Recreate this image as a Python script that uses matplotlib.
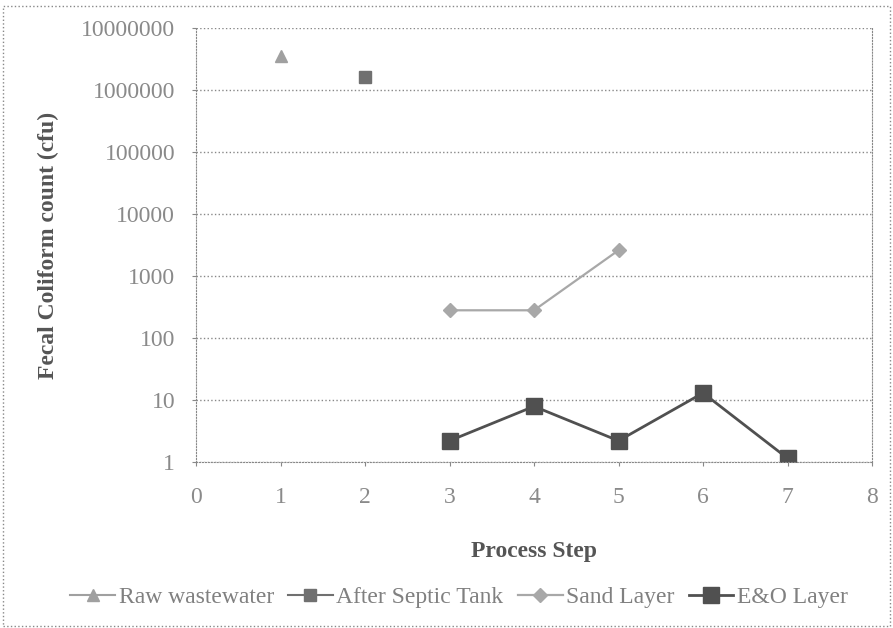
import matplotlib
matplotlib.use('Agg')
import matplotlib.pyplot as plt
from matplotlib.ticker import FixedLocator, FixedFormatter
from matplotlib.patches import Rectangle

plt.rcParams['font.family'] = ['Liberation Serif', 'DejaVu Serif']

# data
raw_x = [1]
raw_y = [3.6e6]
septic_x = [2]
septic_y = [1.6e6]
sand_x = [3, 4, 5]
sand_y = [280, 280, 2600]
eo_x = [3, 4, 5, 6, 7]
eo_y = [2.2, 7.9, 2.2, 13, 1.15]

y_ticks = [1, 10, 100, 1000, 10000, 100000, 1000000, 10000000]
y_labels = [str(v) for v in y_ticks]
x_ticks = list(range(0, 9))

fig = plt.figure(figsize=(8.93, 6.28), dpi=100)
ax = fig.add_axes([0.2195, 0.2643, 0.757, 0.6911])

ax.plot(raw_x, raw_y, marker='^', color='#a0a0a0', markersize=8, linestyle='-',
        label='Raw wastewater')
ax.plot(septic_x, septic_y, marker='s', color='#707070', markersize=8, linestyle='-',
        label='After Septic Tank')
ax.plot(sand_x, sand_y, marker='D', color='#a8a8a8', markersize=7, linewidth=1.6,
        label='Sand Layer')
ax.plot(eo_x, eo_y, marker='s', color='#505050', markersize=11, linewidth=2,
        label='E&O Layer')

ax.set_yscale('log')
ax.set_ylim(1, 1e7)
ax.set_xlim(0, 8)
ax.yaxis.set_major_locator(FixedLocator(y_ticks))
ax.yaxis.set_major_formatter(FixedFormatter(y_labels))
ax.yaxis.set_minor_locator(FixedLocator([]))
ax.set_xticks(x_ticks)
ax.grid(axis='y', linestyle=':', color='#888888', linewidth=1)
ax.spines['top'].set_visible(False)
for side in ['left', 'bottom', 'right']:
    ax.spines[side].set_linestyle(':')
    ax.spines[side].set_color('#888888')
ax.tick_params(colors='#888888', labelcolor='#8a8a8a', labelsize=17, length=3)
ax.tick_params(axis='y', pad=12)
ax.tick_params(axis='x', pad=15)

ax.set_ylabel('Fecal Coliform count (cfu)', fontsize=17, fontweight='bold',
              color='#555555', labelpad=16)
ax.set_xlabel('Process Step', fontsize=17, fontweight='bold', color='#555555',
              labelpad=24)

fig.legend(loc='center', bbox_to_anchor=(0.514, 0.049), ncol=4, frameon=False,
           prop={'family': 'Liberation Serif', 'size': 17},
           handlelength=1.9, columnspacing=0.6, handletextpad=0.15,
           labelcolor='#808080')

fig.patches.append(Rectangle((0.003, 0.003), 0.994, 0.988, transform=fig.transFigure,
                             fill=False, linestyle=':', edgecolor='#888888'))

fig.savefig('out.png', dpi=100)
